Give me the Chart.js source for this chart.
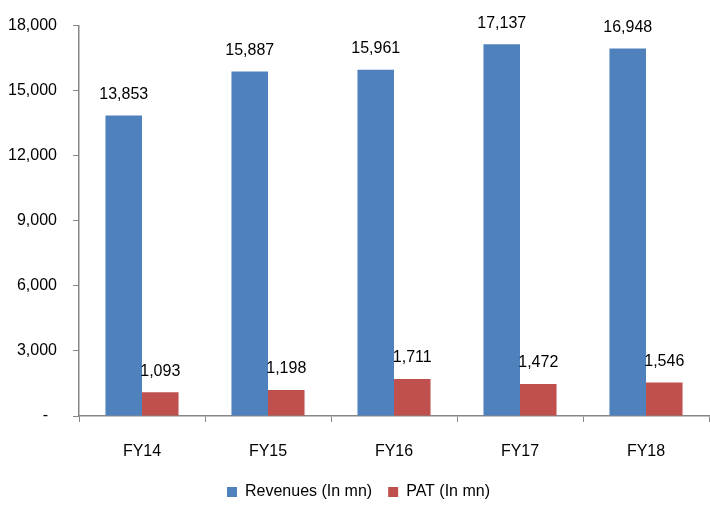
<!DOCTYPE html>
<html>
<head>
<meta charset="utf-8">
<script src="https://cdn.jsdelivr.net/npm/chart.js@4/dist/chart.umd.min.js"></script>
<style>
  html, body { margin: 0; padding: 0; background: #ffffff; }
  #wrap { width: 710px; height: 516px; }
</style>
</head>
<body>
<div id="wrap"><canvas id="c" width="710" height="516"></canvas></div>
<script>
const categories = ['FY14', 'FY15', 'FY16', 'FY17', 'FY18'];
const revenues = [13853, 15887, 15961, 17137, 16948];
const pat = [1093, 1198, 1711, 1472, 1546];
const seriesNames = ['Revenues (In mn)', 'PAT (In mn)'];
const yTicks = [0, 3000, 6000, 9000, 12000, 15000, 18000];

const FONT = '"Liberation Sans Narrow", "Arial Narrow", "Liberation Sans", Arial, sans-serif';
const SIZE = 16;
const fmt = v => v.toLocaleString('en-US');

// Writes each bar's value just above it
const valueLabels = {
  id: 'valueLabels',
  afterDatasetsDraw(chart) {
    const ctx = chart.ctx;
    ctx.save();
    ctx.font = SIZE + 'px ' + FONT;
    ctx.fillStyle = '#000000';
    ctx.textAlign = 'center';
    ctx.textBaseline = 'bottom';
    chart.data.datasets.forEach((ds, i) => {
      chart.getDatasetMeta(i).data.forEach((bar, j) => {
        ctx.fillText(fmt(ds.data[j]), bar.x, bar.y - 13);
      });
    });
    ctx.restore();
  }
};

new Chart(document.getElementById('c'), {
  type: 'bar',
  data: {
    labels: categories,
    datasets: [
      { label: seriesNames[0], data: revenues, backgroundColor: '#4F81BD' },
      { label: seriesNames[1], data: pat, backgroundColor: '#C0504D' }
    ]
  },
  options: {
    responsive: false,
    animation: false,
    devicePixelRatio: 1,
    layout: { padding: { top: 24, right: 1, left: 8, bottom: 6 } },
    datasets: { bar: { categoryPercentage: 0.58, barPercentage: 1.0 } },
    plugins: {
      legend: {
        position: 'bottom',
        labels: {
          boxWidth: 10,
          boxHeight: 10,
          padding: 16,
          color: '#000000',
          font: { family: FONT, size: SIZE }
        }
      },
      tooltip: { enabled: false }
    },
    scales: {
      x: {
        grid: { offset: true, drawOnChartArea: false, tickLength: 6, color: '#868686' },
        border: { color: '#868686', width: 1.5 },
        ticks: { color: '#000000', padding: 20, font: { family: FONT, size: SIZE } },
        afterFit(scale) { scale.height = 52; }
      },
      y: {
        min: 0,
        max: 18000,
        afterBuildTicks(scale) { scale.ticks = yTicks.map(v => ({ value: v })); },
        grid: { drawOnChartArea: false, tickLength: 6, color: '#868686' },
        border: { color: '#868686', width: 1.5 },
        ticks: {
          color: '#000000',
          padding: 16,
          font: { family: FONT, size: SIZE },
          callback: v => (v === 0 ? '-  ' : fmt(v))
        },
        afterFit(scale) { scale.width = 71; }
      }
    }
  },
  plugins: [valueLabels]
});
</script>
</body>
</html>
